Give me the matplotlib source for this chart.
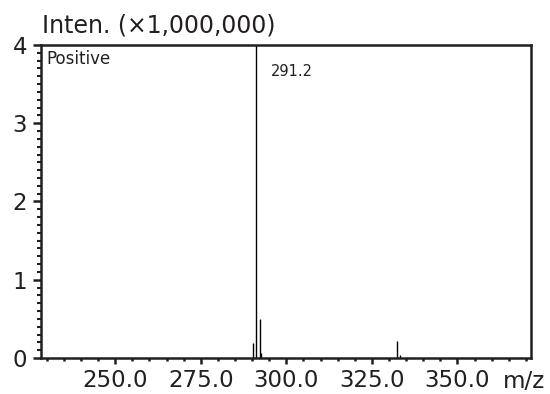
import matplotlib
matplotlib.use("Agg")
import matplotlib.pyplot as plt
from matplotlib.ticker import MultipleLocator, FormatStrFormatter

mz = [290.2, 291.2, 292.2, 292.6, 332.3, 333.2]
intensity = [0.19, 4.0, 0.50, 0.06, 0.22, 0.04]
x_ticks = [250.0, 275.0, 300.0, 325.0, 350.0]
y_ticks = [0, 1, 2, 3, 4]
base_label = "291.2"

ink = '#231f20'
plt.rcParams['font.family'] = ['DejaVu Sans']
fig = plt.figure(figsize=(5.5, 3.94), dpi=100)
ax = fig.add_axes([0.0745, 0.0914, 0.891, 0.7944])

ax.vlines(mz, 0, intensity, colors='black', linewidth=1.0)
ax.set_xlim(228.3, 371.5)
ax.set_ylim(0, 4)
ax.set_xticks(x_ticks)
ax.xaxis.set_major_formatter(FormatStrFormatter('%.1f'))
ax.xaxis.set_minor_locator(MultipleLocator(5))
ax.set_yticks(y_ticks)
ax.yaxis.set_minor_locator(MultipleLocator(0.1))
ax.tick_params(axis='x', which='major', direction='out', length=4, width=1.8, labelsize=16.5, pad=4,
               color=ink, labelcolor=ink)
ax.tick_params(axis='x', which='minor', direction='out', length=2, width=1.8, color=ink)
ax.tick_params(axis='y', which='major', direction='out', length=6, width=1.8, labelsize=16.5, pad=4,
               color=ink, labelcolor=ink)
ax.tick_params(axis='y', which='minor', direction='out', length=3, width=1.5, color=ink)
for s in ax.spines.values():
    s.set_linewidth(1.8)
    s.set_color(ink)

ax.text(0.012, 0.985, "Positive", transform=ax.transAxes, fontsize=12, va='top', ha='left', color=ink)
ax.text(mz[1] + 4.3, 3.66, base_label, fontsize=10.5, va='center', ha='left', color=ink)
fig.text(42/550, 1 - 26/394, "Inten. (×1,000,000)", fontsize=17, va='center', ha='left', color=ink)
fig.text(503/550, 1 - 381/394, "m/z", fontsize=16.5, va='center', ha='left', color=ink)

fig.savefig("out.png", dpi=100)
